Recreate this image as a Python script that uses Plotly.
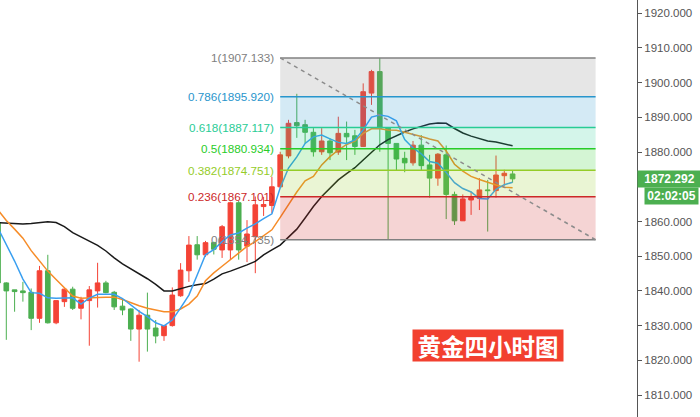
import plotly.graph_objects as go

# ---------------- data ----------------
bar_index = list(range(63))

opens = [1859.6, 1842.3, 1840.3, 1840.0, 1839.6, 1832.1, 1845.8, 1830.8, 1836.9, 1840.5,
         1835.0, 1837.2, 1840.0, 1842.3, 1839.6, 1835.6, 1834.8, 1829.0, 1833.0, 1829.3,
         1827.1, 1830.0, 1838.6, 1845.8, 1853.3, 1850.4, 1853.9, 1851.8, 1851.8, 1865.4,
         1852.9, 1855.6, 1864.3, 1864.6, 1870.0, 1878.9, 1888.5, 1887.9, 1885.7, 1880.1,
         1883.2, 1880.0, 1885.4, 1884.7, 1881.6, 1897.0, 1903.2, 1886.9, 1882.5, 1878.2,
         1876.9, 1882.0, 1876.3, 1872.5, 1879.2, 1867.8, 1860.2, 1866.2, 1866.7, 1869.1,
         1868.9, 1873.2, 1873.7]
highs = [1859.9, 1842.5, 1840.3, 1842.6, 1840.7, 1847.2, 1850.4, 1837.2, 1840.7, 1841.2,
         1838.3, 1841.4, 1848.1, 1842.9, 1840.0, 1837.9, 1835.0, 1834.5, 1839.5, 1831.6,
         1830.2, 1841.0, 1848.0, 1855.8, 1855.8, 1854.4, 1854.2, 1859.0, 1865.7, 1865.9,
         1860.4, 1867.2, 1867.1, 1872.9, 1880.1, 1889.3, 1896.8, 1889.3, 1886.9, 1886.9,
         1884.0, 1890.2, 1888.8, 1886.4, 1899.8, 1903.7, 1907.133, 1886.9, 1882.5, 1880.1,
         1883.2, 1884.9, 1879.2, 1879.7, 1881.9, 1868.6, 1867.8, 1868.6, 1872.5, 1872.0,
         1879.0, 1874.9, 1874.6]
lows = [1842.0, 1825.9, 1834.0, 1836.9, 1828.7, 1830.8, 1830.6, 1830.4, 1835.4, 1834.5,
        1831.8, 1824.2, 1835.2, 1839.3, 1834.5, 1833.0, 1825.6, 1819.6, 1822.5, 1824.9,
        1825.6, 1829.7, 1838.3, 1842.6, 1849.0, 1849.8, 1850.5, 1849.5, 1849.0, 1849.0,
        1848.3, 1845.1, 1861.6, 1862.4, 1869.6, 1878.2, 1884.1, 1882.5, 1878.7, 1879.2,
        1877.7, 1879.2, 1877.7, 1879.2, 1881.5, 1893.6, 1880.1, 1854.735, 1874.8, 1874.2,
        1876.1, 1874.8, 1866.9, 1870.3, 1860.7, 1859.0, 1860.2, 1861.9, 1863.3, 1857.1,
        1866.9, 1870.3, 1871.2]
closes = [1842.3, 1840.0, 1839.8, 1839.5, 1832.1, 1845.8, 1830.8, 1837.2, 1840.5, 1835.0,
          1837.4, 1840.3, 1842.3, 1839.5, 1835.4, 1834.5, 1829.0, 1833.0, 1829.0, 1827.0,
          1830.0, 1838.8, 1846.0, 1853.2, 1850.4, 1853.9, 1852.0, 1858.5, 1865.4, 1851.8,
          1856.4, 1864.8, 1864.9, 1870.0, 1879.2, 1888.3, 1887.6, 1885.7, 1880.1, 1883.2,
          1879.8, 1885.4, 1884.4, 1881.6, 1897.4, 1903.2, 1886.9, 1882.5, 1878.0, 1876.9,
          1882.0, 1876.1, 1872.5, 1879.4, 1867.8, 1860.2, 1866.5, 1866.9, 1869.1, 1868.9,
          1873.4, 1873.9, 1872.292]

ma_fast = [1858.1, 1853.5, 1848.6, 1843.4, 1839.5, 1839.3, 1838.0, 1837.9, 1837.9, 1838.0,
           1836.2, 1837.9, 1839.0, 1839.0, 1839.0, 1837.8, 1836.0, 1834.1, 1832.6, 1830.8,
           1829.9, 1831.6, 1835.1, 1838.8, 1844.6, 1850.4, 1851.9, 1854.2, 1856.1, 1856.7,
           1858.1, 1859.3, 1860.8, 1862.2, 1869.7, 1875.4, 1878.6, 1882.5, 1884.4, 1884.9,
           1883.8, 1882.8, 1882.5, 1883.5, 1886.4, 1890.1, 1890.7, 1890.3, 1889.0, 1883.6,
           1881.2, 1879.5, 1877.3, 1876.8, 1874.1, 1871.2, 1869.5, 1868.5, 1866.6, 1866.5,
           1869.3, 1870.6, 1871.3]
ma_mid = [1863.3, 1860.3, 1857.8, 1855.2, 1851.6, 1848.6, 1845.7, 1843.3, 1840.9, 1838.5,
          1837.9, 1837.9, 1838.1, 1838.2, 1838.2, 1837.5, 1836.5, 1835.7, 1835.0, 1834.4,
          1834.0, 1834.0, 1834.8, 1836.2, 1838.5, 1842.9, 1845.2, 1847.1, 1849.0, 1850.9,
          1852.8, 1854.2, 1856.0, 1857.6, 1861.2, 1864.8, 1868.5, 1871.7, 1873.0, 1876.3,
          1878.7, 1880.6, 1882.2, 1883.2, 1885.4, 1886.7, 1886.7, 1886.4, 1886.3, 1885.7,
          1885.2, 1884.5, 1883.8, 1883.2, 1880.3, 1876.5, 1874.5, 1873.0, 1872.1, 1871.2,
          1870.5, 1869.9, 1869.7]
ma_slow = [1859.7, 1859.5, 1859.3, 1859.3, 1859.4, 1859.6, 1859.9, 1859.7, 1858.5, 1856.8,
           1855.5, 1854.3, 1853.1, 1851.5, 1849.5, 1847.8, 1846.4, 1845.0, 1843.5, 1841.9,
           1840.0, 1840.0, 1840.7, 1841.3, 1841.8, 1842.1, 1843.4, 1844.9, 1845.7, 1846.5,
           1847.5, 1848.5, 1850.4, 1851.8, 1853.2, 1855.5, 1857.8, 1861.0, 1864.3, 1867.2,
           1869.6, 1872.0, 1873.8, 1875.5, 1877.7, 1879.9, 1882.1, 1883.6, 1884.8, 1885.8,
           1886.7, 1887.4, 1888.1, 1888.4, 1888.3, 1886.8, 1885.5, 1884.6, 1883.9, 1883.2,
           1882.9, 1882.3, 1881.8]

fib_ratios = ["1", "0.786", "0.618", "0.5", "0.382", "0.236", "0"]
fib_prices = [1907.133, 1895.920, 1887.117, 1880.934, 1874.751, 1867.101, 1854.735]
fib_colors = ["#808080", "#2895cc", "#28cc95", "#28cc28", "#95cc28", "#cc2828", "#808080"]
fib_start_bar = 34
fib_end_bar = 72

y_ticks = [1810, 1820, 1830, 1840, 1850, 1860, 1880, 1890, 1900, 1910, 1920]
last_price = 1872.292
countdown = "02:02:05"
chart_title = "黄金四小时图"

# ---------------- styles ----------------
UP = "#f44336"
DOWN = "#4caf50"
FONT = "Liberation Sans, Arial, sans-serif"


def rgba(hex_color, a):
    h = hex_color.lstrip("#")
    r, g, b = int(h[0:2], 16), int(h[2:4], 16), int(h[4:6], 16)
    return f"rgba({r},{g},{b},{a})"


fig = go.Figure()

fig.add_trace(go.Candlestick(
    x=bar_index, open=opens, high=highs, low=lows, close=closes,
    increasing=dict(line=dict(color=UP, width=1), fillcolor=UP),
    decreasing=dict(line=dict(color=DOWN, width=1), fillcolor=DOWN),
    whiskerwidth=0, hoverinfo="skip", showlegend=False,
))

for series, color in [(ma_slow, "#1a1a1a"), (ma_mid, "#f68c28"), (ma_fast, "#3a9ff0")]:
    fig.add_trace(go.Scatter(
        x=bar_index, y=series, mode="lines",
        line=dict(color=color, width=1.5), hoverinfo="skip", showlegend=False,
    ))

shapes = []
for k in range(len(fib_prices) - 1):
    shapes.append(dict(
        type="rect", xref="x", yref="y",
        x0=fib_start_bar, x1=fib_end_bar, y0=fib_prices[k + 1], y1=fib_prices[k],
        fillcolor=rgba(fib_colors[k], 0.2), line=dict(width=0), layer="above",
    ))
for p, c in zip(fib_prices, fib_colors):
    shapes.append(dict(
        type="line", xref="x", yref="y",
        x0=fib_start_bar, x1=fib_end_bar, y0=p, y1=p,
        line=dict(color=c, width=1.5), layer="above",
    ))
shapes.append(dict(
    type="line", xref="x", yref="y",
    x0=fib_start_bar, y0=fib_prices[0], x1=fib_end_bar, y1=fib_prices[-1],
    line=dict(color="#8c8c8c", width=1.5, dash="4px,4px"), layer="above",
))

annotations = []
for r, p, c in zip(fib_ratios, fib_prices, fib_colors):
    annotations.append(dict(
        x=fib_start_bar, y=p, xref="x", yref="y",
        text=f"{r}({p:.3f})", showarrow=False,
        xanchor="right", yanchor="middle", xshift=-4,
        font=dict(family=FONT, size=11.7, color=c),
    ))

annotations.append(dict(
    x=1, xref="paper", y=last_price, yref="y",
    text=f"<b>{last_price:.3f}</b>", showarrow=False,
    xanchor="left", yanchor="middle",
    bgcolor=DOWN, width=61, height=14, borderpad=1,
    font=dict(family=FONT, size=12, color="white"),
))
annotations.append(dict(
    x=1, xref="paper", y=last_price, yref="y",
    text=f"<b>{countdown}</b>", showarrow=False,
    xanchor="left", yanchor="middle", xshift=7, yshift=-17,
    bgcolor=DOWN, width=51, height=14, borderpad=1,
    font=dict(family=FONT, size=12, color="white"),
))
annotations.append(dict(
    x=0.7661, xref="paper", y=0.1703, yref="paper",
    text=f"<b>{chart_title}</b>", showarrow=False,
    xanchor="center", yanchor="middle",
    bgcolor="#f2402f", width=148, height=29, borderpad=1,
    font=dict(family="Noto Sans CJK SC", size=23.5, color="white"),
))

fig.update_layout(
    width=700, height=417,
    margin=dict(l=0, r=63, t=0, b=0),
    paper_bgcolor="white", plot_bgcolor="white",
    showlegend=False, hovermode=False,
    boxgap=0.2,
    shapes=shapes, annotations=annotations,
    xaxis=dict(range=[0.241, 76.988], visible=False, showgrid=False, zeroline=False,
               rangeslider=dict(visible=False)),
    yaxis=dict(side="right", range=[1803.66, 1923.83],
               tickvals=y_ticks, ticktext=[f"{v:.3f}" for v in y_ticks],
               showgrid=False, zeroline=False,
               showline=True, linecolor="#555", linewidth=1,
               ticks="outside", ticklen=4, tickcolor="#555",
               tickfont=dict(family=FONT, size=11.5, color="#555")),
)

fig.write_html(
    "out.html",
    config={"displayModeBar": False, "staticPlot": True},
    post_script="document.body.style.margin='0px';document.body.style.padding='0px';"
                "document.body.style.overflow='hidden';",
)
